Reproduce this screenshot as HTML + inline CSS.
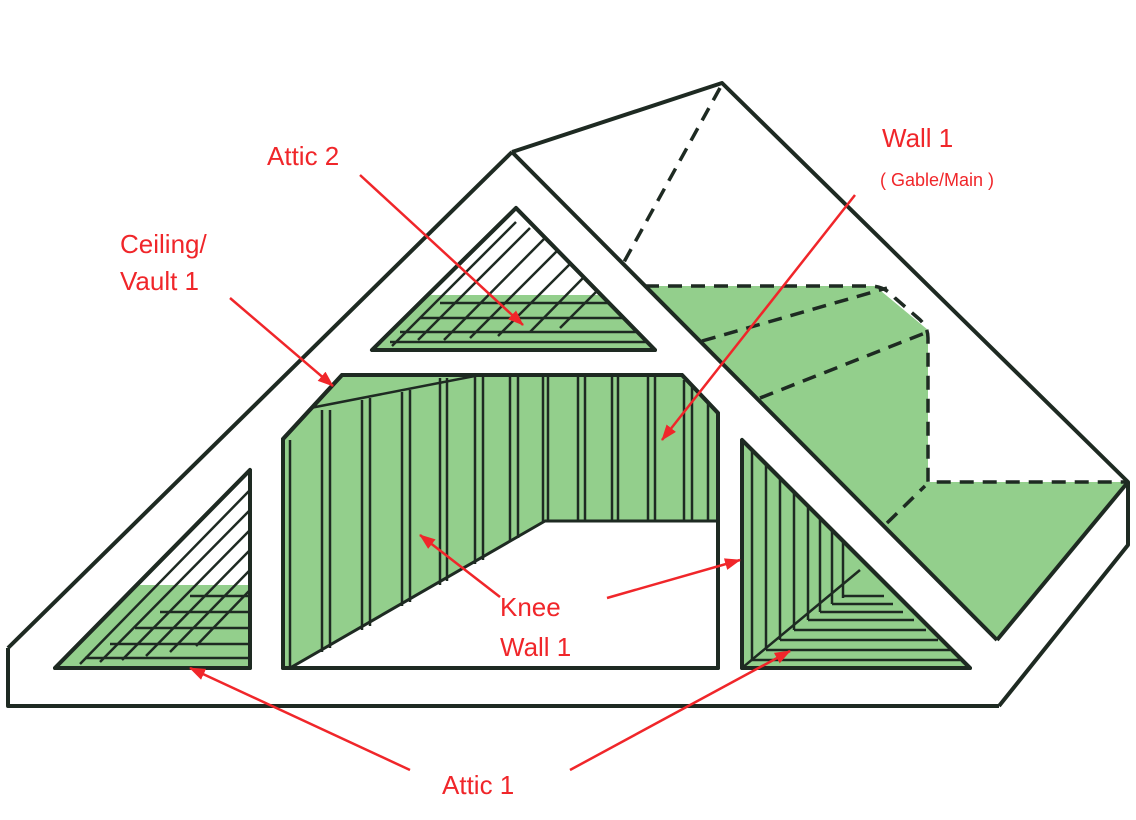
<!DOCTYPE html>
<html><head><meta charset="utf-8"><style>
html,body{margin:0;padding:0;background:#fff;width:1136px;height:820px;overflow:hidden}
text{font-family:"Liberation Sans",sans-serif;fill:#f0262a}
</style></head><body>
<svg width="1136" height="820" viewBox="0 0 1136 820" xmlns="http://www.w3.org/2000/svg">
<defs>
<marker id="ah" markerWidth="16" markerHeight="12" refX="15" refY="6" orient="auto" markerUnits="userSpaceOnUse"><path d="M0,0 L16,6 L0,12 Z" fill="#f0262a"/></marker>
<clipPath id="a2"><polygon points="516,208 372,350 655,350"/></clipPath>
<clipPath id="a1l"><polygon points="55,668 250,470 250,668"/></clipPath>
<clipPath id="a1r"><polygon points="742,440 742,668 970,668"/></clipPath>
<clipPath id="room"><polygon points="283,439 342,375 682,375 718,413 718,668 283,668"/></clipPath>
</defs>
<g stroke="#1e2a22" stroke-width="4" fill="none" stroke-linejoin="round">
<polygon points="645,286 875,286 928,330 928,482 1128,482 997,640" fill="#93cf8c" stroke="none"/>
<polyline points="512,152 722,83 1128,482 1128,545 999,706"/>
<line x1="512" y1="152" x2="997" y2="640"/>
<line x1="997" y1="640" x2="1128" y2="482"/>
<polyline points="8,648 512,152"/>
<polyline points="8,648 8,706 999,706"/>
<g stroke-dasharray="14,9" stroke-width="3.5">
<line x1="720" y1="88" x2="624" y2="262"/>
<path d="M645,286 L870,286 Q885,286 895,298 L918,318 Q928,326 928,338 L928,482 L1128,482"/>
<line x1="702" y1="341" x2="887" y2="288"/>
<line x1="760" y1="398" x2="925" y2="333"/>
<line x1="887" y1="523" x2="925" y2="486"/>
</g>
<polygon points="516,208 372,350 655,350" fill="#fff"/>
<g clip-path="url(#a2)" stroke-width="2.5">
<rect x="372" y="295" width="290" height="55" fill="#93cf8c" stroke="none"/>
<line x1="516" y1="222" x2="392" y2="346"/><line x1="530" y1="228" x2="418" y2="340"/>
<line x1="545" y1="238" x2="444" y2="340"/><line x1="558" y1="250" x2="470" y2="338"/>
<line x1="572" y1="262" x2="498" y2="336"/><line x1="585" y1="276" x2="530" y2="332"/>
<line x1="598" y1="290" x2="560" y2="328"/>
<line x1="440" y1="303" x2="660" y2="303"/><line x1="420" y1="318" x2="660" y2="318"/>
<line x1="400" y1="332" x2="660" y2="332"/><line x1="390" y1="342" x2="660" y2="342"/>
</g>
<polygon points="516,208 372,350 655,350"/>
<polygon points="283,439 342,375 682,375 718,413 718,668 283,668" fill="#93cf8c"/>
<g clip-path="url(#room)">
<polygon points="290,668 545,521 720,521 720,668" fill="#fff" stroke-width="3"/>
<g stroke-width="2.5">
<line x1="300" y1="410" x2="480" y2="375"/>
<line x1="290" y1="440" x2="290" y2="668"/>
<line x1="322" y1="410" x2="322" y2="652"/><line x1="330" y1="410" x2="330" y2="648"/>
<line x1="362" y1="400" x2="362" y2="630"/><line x1="370" y1="398" x2="370" y2="626"/>
<line x1="402" y1="392" x2="402" y2="606"/><line x1="410" y1="390" x2="410" y2="602"/>
<line x1="440" y1="378" x2="440" y2="585"/><line x1="447" y1="378" x2="447" y2="581"/>
<line x1="475" y1="375" x2="475" y2="564"/><line x1="483" y1="375" x2="483" y2="560"/>
<line x1="510" y1="375" x2="510" y2="542"/><line x1="518" y1="375" x2="518" y2="538"/>
<line x1="543" y1="375" x2="543" y2="521"/><line x1="548" y1="375" x2="548" y2="521"/>
<line x1="578" y1="375" x2="578" y2="521"/><line x1="585" y1="375" x2="585" y2="521"/>
<line x1="612" y1="375" x2="612" y2="521"/><line x1="618" y1="375" x2="618" y2="521"/>
<line x1="648" y1="375" x2="648" y2="521"/><line x1="655" y1="375" x2="655" y2="521"/>
<line x1="684" y1="380" x2="684" y2="521"/><line x1="692" y1="385" x2="692" y2="521"/>
<line x1="708" y1="400" x2="708" y2="521"/>
</g>
</g>
<polygon points="283,439 342,375 682,375 718,413 718,668 283,668"/>
<polygon points="55,668 250,470 250,668" fill="#fff"/>
<g clip-path="url(#a1l)" stroke-width="2.5">
<rect x="55" y="585" width="200" height="85" fill="#93cf8c" stroke="none"/>
<line x1="250" y1="490" x2="80" y2="664"/><line x1="250" y1="510" x2="100" y2="662"/>
<line x1="250" y1="530" x2="122" y2="660"/><line x1="250" y1="550" x2="146" y2="656"/>
<line x1="250" y1="570" x2="170" y2="652"/><line x1="250" y1="590" x2="196" y2="646"/>
<line x1="190" y1="596" x2="250" y2="596"/><line x1="160" y1="612" x2="250" y2="612"/>
<line x1="135" y1="628" x2="250" y2="628"/><line x1="110" y1="644" x2="250" y2="644"/>
<line x1="85" y1="658" x2="250" y2="658"/>
</g>
<polygon points="55,668 250,470 250,668"/>
<polygon points="742,440 742,668 970,668" fill="#93cf8c"/>
<g clip-path="url(#a1r)" stroke-width="2.5">
<line x1="752" y1="450" x2="752" y2="660"/><line x1="766" y1="460" x2="766" y2="650"/>
<line x1="780" y1="472" x2="780" y2="640"/><line x1="794" y1="484" x2="794" y2="630"/>
<line x1="808" y1="496" x2="808" y2="620"/><line x1="820" y1="508" x2="820" y2="612"/>
<line x1="832" y1="520" x2="832" y2="604"/><line x1="843" y1="532" x2="843" y2="598"/>
<line x1="752" y1="660" x2="960" y2="660"/><line x1="766" y1="650" x2="950" y2="650"/>
<line x1="780" y1="640" x2="938" y2="640"/><line x1="794" y1="630" x2="926" y2="630"/>
<line x1="808" y1="620" x2="914" y2="620"/><line x1="820" y1="612" x2="903" y2="612"/>
<line x1="832" y1="604" x2="893" y2="604"/><line x1="843" y1="596" x2="884" y2="596"/>
<line x1="742" y1="668" x2="860" y2="570"/>
</g>
<polygon points="742,440 742,668 970,668"/>
</g>
<g stroke="#f0262a" stroke-width="2.5" marker-end="url(#ah)">
<line x1="360" y1="175" x2="523" y2="325"/>
<line x1="230" y1="298" x2="333" y2="386"/>
<line x1="855" y1="195" x2="662" y2="440"/>
<line x1="500" y1="597" x2="420" y2="535"/>
<line x1="607" y1="598" x2="740" y2="560"/>
<line x1="410" y1="770" x2="190" y2="668"/>
<line x1="570" y1="770" x2="790" y2="651"/>
</g>
<text x="267" y="165" font-size="26">Attic 2</text>
<text x="120" y="253" font-size="26">Ceiling/</text>
<text x="120" y="290" font-size="26">Vault 1</text>
<text x="882" y="147" font-size="26">Wall 1</text>
<text x="880" y="186" font-size="18">( Gable/Main )</text>
<text x="500" y="616" font-size="26">Knee</text>
<text x="500" y="656" font-size="26">Wall 1</text>
<text x="442" y="794" font-size="26">Attic 1</text>
</svg>
</body></html>
